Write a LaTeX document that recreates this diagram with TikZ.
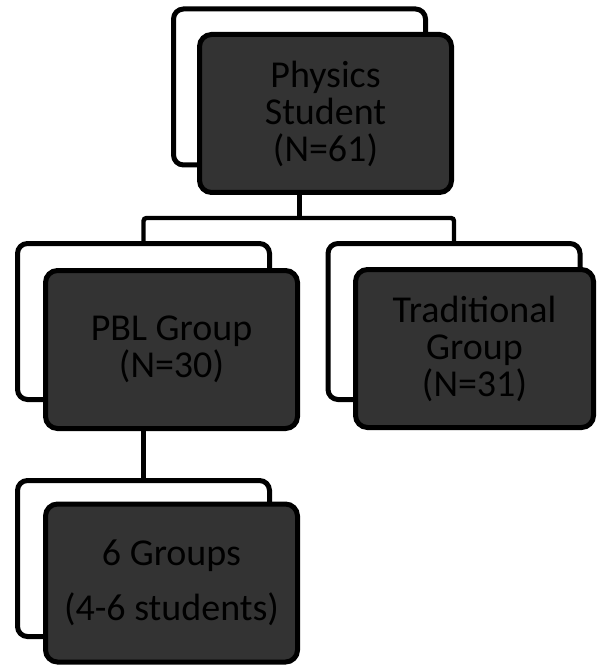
\documentclass[tikz,border=0pt]{standalone}
\usepackage{fontspec}
\setmainfont{Carlito}
\usepackage{xcolor}
\usetikzlibrary{positioning}
\definecolor{boxgray}{HTML}{333333}

\begin{document}
\begin{tikzpicture}[
  x=0.5pt, y=-0.5pt,
  backbox/.style={draw, line width=2.5pt, rounded corners=5pt, fill=white, minimum width=126pt, minimum height=78pt, inner sep=0pt},
  frontbox/.style={draw, line width=2.5pt, rounded corners=6pt, fill=boxgray, text=black, minimum width=126pt, minimum height=79pt, inner sep=0pt, align=center, font=\fontsize{19}{18.5}\selectfont},
  link/.style={line width=2.2pt, rounded corners=1.5pt}
]
\useasboundingbox (0,0) rectangle (600,668);

% back boxes
\node[backbox] (topback) at (299.5,87) {};
\node[backbox] (pblback) at (143.5,321.5) {};
\node[backbox] (tradback) at (454,321.5) {};
\node[backbox] (grpback) at (143.5,558.5) {};

% connectors
\coordinate (split) at (299.5,218);
\draw[link] (topback.south) -- (split);
\draw[link] (pblback.north) |- (split) -| (tradback.north);
\draw[link] (pblback.south) -- (grpback.north);

% front boxes
\node[frontbox] (topfront) at (325.5,113.5) {Physics\\Student\\(N=61)};
\node[frontbox] (pblfront) at (171.5,349.5) {PBL Group\\(N=30)};
\node[frontbox, minimum width=119pt] (tradfront) at (474.5,348.5) {Traditional\\Group\\(N=31)};
\node[frontbox] (grpfront) at (171.5,583) {6 Groups\\[9pt](4-6 students)};
\end{tikzpicture}
\end{document}
